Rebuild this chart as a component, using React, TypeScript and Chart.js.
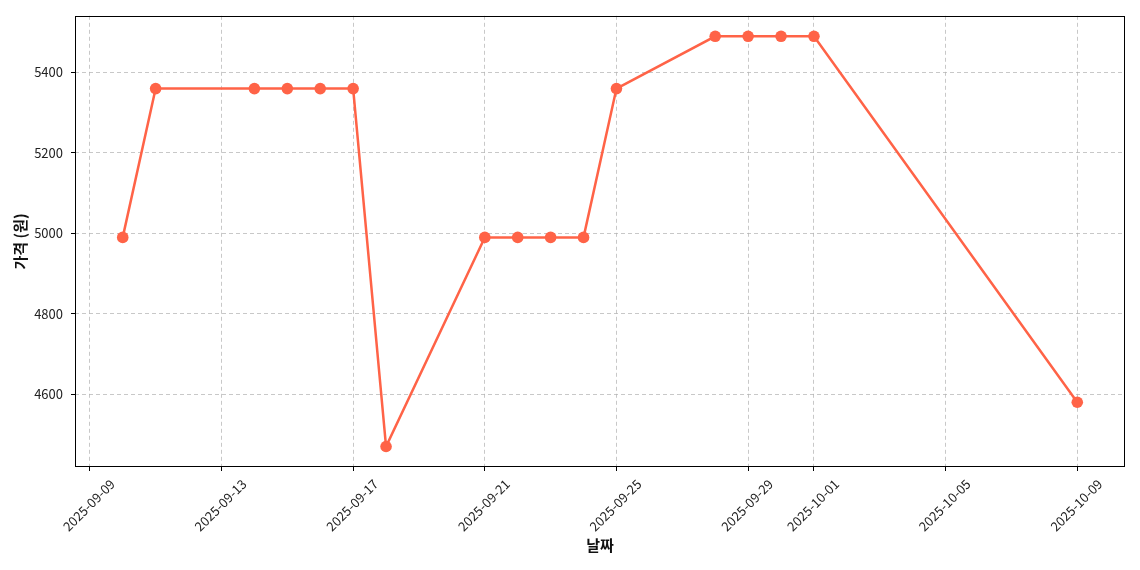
import React, { useEffect, useRef } from "react";
import { Chart, registerables } from "chart.js";

Chart.register(...registerables);

// days counted from 2025-09-09 (day 0)
const dayOffsets = [1, 2, 5, 6, 7, 8, 9, 12, 13, 14, 15, 16, 19, 20, 21, 22, 30];
const prices = [4990, 5360, 5360, 5360, 5360, 5360, 4470, 4990, 4990, 4990, 4990, 5360, 5490, 5490, 5490, 5490, 4580];
const xTickDays = [0, 4, 8, 12, 16, 20, 22, 26, 30];
const yTickValues = [4600, 4800, 5000, 5200, 5400];
const xTitle = "날짜";
const yTitle = "가격 (원)";

const BASE = Date.UTC(2025, 8, 9);
function dayLabel(d: number): string {
  const dt = new Date(BASE + Math.round(d) * 86400000);
  const m = String(dt.getUTCMonth() + 1).padStart(2, "0");
  const day = String(dt.getUTCDate()).padStart(2, "0");
  return `${dt.getUTCFullYear()}-${m}-${day}`;
}

const FONT = "'Noto Sans CJK KR', 'Noto Sans', sans-serif";
const TICK_SIZE = 13;

export default function App() {
  const ref = useRef<HTMLCanvasElement | null>(null);
  useEffect(() => {
    if (!ref.current) return;
    const xs = dayOffsets;
    const xr = xs[xs.length - 1] - xs[0];
    const ymin = Math.min(...prices);
    const ymax = Math.max(...prices);
    const yr = ymax - ymin;
    const framePlugin = {
      id: "frame",
      afterDraw(chart: any) {
        const { ctx, chartArea } = chart;
        ctx.save();
        ctx.strokeStyle = "#000";
        ctx.lineWidth = 1;
        ctx.setLineDash([]);
        ctx.strokeRect(
          Math.round(chartArea.left) + 0.5,
          Math.round(chartArea.top) + 0.5,
          Math.round(chartArea.right - chartArea.left) - 1,
          Math.round(chartArea.bottom - chartArea.top) - 1
        );
        // rotated x tick labels, centred under their ticks
        const xScale = chart.scales.x;
        ctx.font = `${TICK_SIZE}px ${FONT}`;
        ctx.fillStyle = "#222";
        ctx.textAlign = "center";
        ctx.textBaseline = "middle";
        for (const t of xScale.ticks) {
          const label = dayLabel(t.value);
          const px = xScale.getPixelForValue(t.value);
          const L = ctx.measureText(label).width;
          const half = (L + TICK_SIZE) / (2 * Math.SQRT2);
          const cy = chartArea.bottom + 10 + half;
          ctx.save();
          ctx.translate(px - 1, cy);
          ctx.rotate(-Math.PI / 4);
          ctx.fillText(label, 0, 0);
          ctx.restore();
        }
        ctx.restore();
      },
    };
    const chart = new Chart(ref.current, {
      type: "line",
      data: {
        datasets: [
          {
            data: dayOffsets.map((d, i) => ({ x: d, y: prices[i] })),
            borderColor: "#FF6347",
            backgroundColor: "#FF6347",
            borderWidth: 2.5,
            pointRadius: 5.8,
            pointBorderWidth: 0,
            pointBackgroundColor: "#FF6347",
            tension: 0,
            clip: false as any,
          },
        ],
      },
      options: {
        animation: false,
        responsive: false,
        layout: { padding: { left: 0, right: 15, top: 15, bottom: 0 } },
        plugins: { legend: { display: false }, tooltip: { enabled: false } },
        scales: {
          x: {
            type: "linear",
            min: xs[0] - 0.05 * xr,
            max: xs[xs.length - 1] + 0.05 * xr,
            afterBuildTicks(scale: any) {
              scale.ticks = xTickDays.map((v) => ({ value: v }));
            },
            afterFit(scale: any) {
              scale.height = 103;
            },
            ticks: {
              display: false,
              autoSkip: false,
            },
            grid: {
              color: "rgba(176,176,176,0.7)",
              lineWidth: 1,
              drawTicks: true,
              tickLength: 4,
              tickColor: "#000",
              tickBorderDash: [],
            },
            border: { display: false, dash: [4, 3] },
            title: {
              display: true,
              text: xTitle,
              color: "#111",
              font: { family: FONT, size: 15, weight: "bold" },
              padding: { top: 0, bottom: 16 },
            },
          },
          y: {
            type: "linear",
            min: ymin - 0.05 * yr,
            max: ymax + 0.05 * yr,
            afterBuildTicks(scale: any) {
              scale.ticks = yTickValues.map((v) => ({ value: v }));
            },
            afterFit(scale: any) {
              scale.width = 75;
            },
            ticks: {
              callback: (v: any) => String(v),
              color: "#222",
              font: { family: FONT, size: TICK_SIZE },
              padding: 8,
            },
            grid: {
              color: "rgba(176,176,176,0.7)",
              lineWidth: 1,
              tickLength: 4,
              tickColor: "#000",
              tickBorderDash: [],
            },
            border: { display: false, dash: [4, 3] },
            title: {
              display: true,
              text: yTitle,
              color: "#111",
              font: { family: FONT, size: 15, weight: "bold" },
              padding: { top: 11, bottom: 0 },
            },
          },
        },
      },
      plugins: [framePlugin],
    } as any);
    return () => chart.destroy();
  }, []);
  return (
    <div style={{ position: "fixed", left: 0, top: 0, width: 1140, height: 570, background: "#fff" }}>
      <canvas ref={ref} width={1140} height={570} style={{ width: 1140, height: 570 }} />
    </div>
  );
}
